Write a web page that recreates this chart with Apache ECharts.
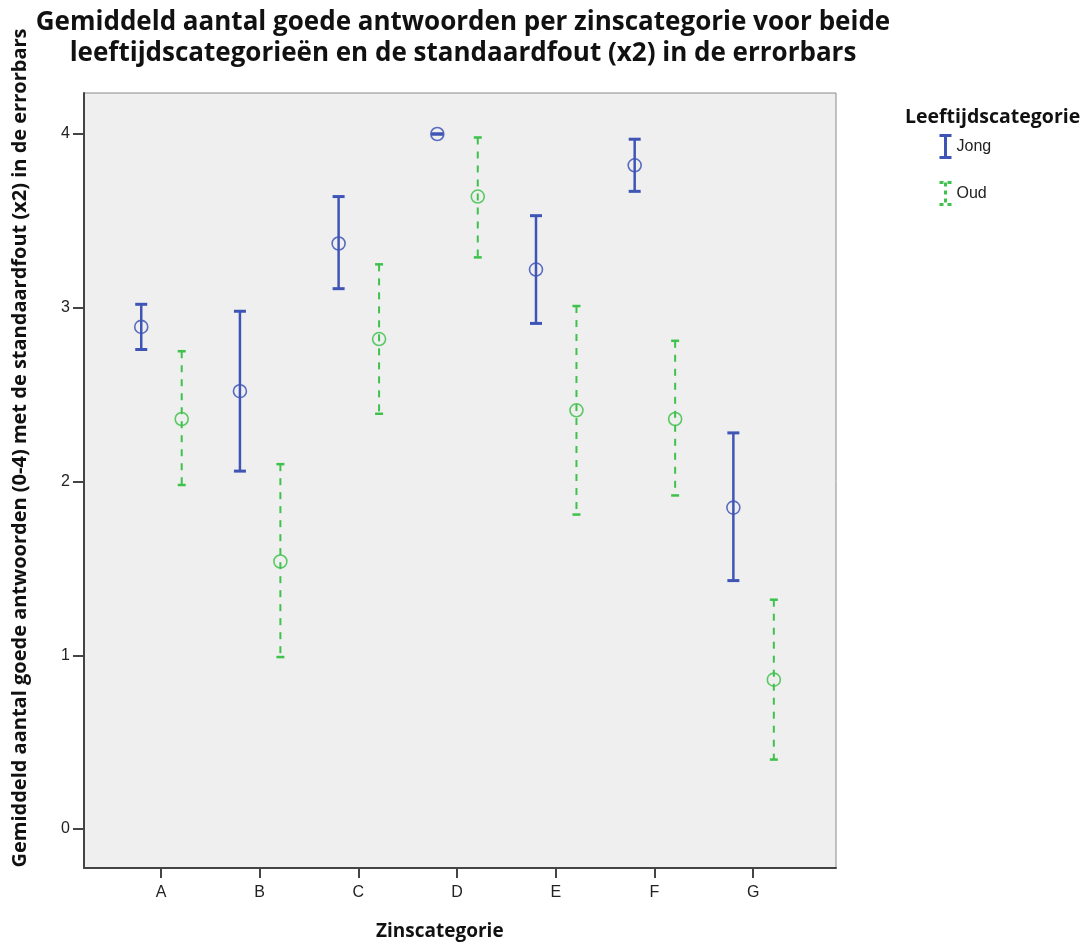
<!DOCTYPE html>
<html>
<head>
<meta charset="utf-8">
<script src="https://cdn.jsdelivr.net/npm/echarts@6/dist/echarts.min.js"></script>
<style>
  html, body { margin: 0; padding: 0; background: #fff; }
  #chart { width: 1085px; height: 947px; }
</style>
</head>
<body>
<div id="chart"></div>
<script>
// zinscategorieën
const categories = ['A', 'B', 'C', 'D', 'E', 'F', 'G']
const yTicks = [0, 1, 2, 3, 4]

// Jong: gemiddelde en grenzen van de errorbar (2x standaardfout)
const jongMean = [2.89, 2.52, 3.37, 4.0, 3.22, 3.82, 1.85]
const jongLow = [2.76, 2.06, 3.11, 4.0, 2.91, 3.67, 1.43]
const jongHigh = [3.02, 2.98, 3.64, 4.0, 3.53, 3.97, 2.28]

// Oud
const oudMean = [2.36, 1.54, 2.82, 3.64, 2.41, 2.36, 0.86]
const oudLow = [1.98, 0.99, 2.39, 3.29, 1.81, 1.92, 0.40]
const oudHigh = [2.75, 2.10, 3.25, 3.98, 3.01, 2.81, 1.32]

const BLUE = '#3f55b6'
const GREEN = '#3fc24c'
const FONT = 'Open Sans'

// rijen [x, gemiddelde, laag, hoog]
function rows(mean, low, high, shift) {
  return mean.map((m, i) => [i + 1 + shift, m, low[i], high[i]])
}

// errorbar + cirkel tekenen
function makeRender(color, dashed, capHalf) {
  return function (params, api) {
    const x = api.value(0)
    const pMean = api.coord([x, api.value(1)])
    const pLow = api.coord([x, api.value(2)])
    const pHigh = api.coord([x, api.value(3)])
    const line = {
      stroke: color,
      lineWidth: dashed ? 2 : 2.5,
      lineDash: dashed ? [7, 7] : null,
    }
    const capStyle = { stroke: color, lineWidth: dashed ? 2.5 : 3 }
    const children = [
      {
        type: 'line',
        shape: { x1: pHigh[0], y1: pHigh[1], x2: pLow[0], y2: pLow[1] },
        style: line,
      },
      {
        type: 'line',
        shape: { x1: pHigh[0] - capHalf, y1: pHigh[1], x2: pHigh[0] + capHalf, y2: pHigh[1] },
        style: capStyle,
      },
      {
        type: 'line',
        shape: { x1: pLow[0] - capHalf, y1: pLow[1], x2: pLow[0] + capHalf, y2: pLow[1] },
        style: capStyle,
      },
      {
        type: 'circle',
        shape: { cx: pMean[0], cy: pMean[1], r: 6.5 },
        style: { fill: 'none', stroke: color, lineWidth: 1.6, opacity: 0.85 },
      },
    ]
    return { type: 'group', children: children }
  }
}

const iconPath = 'path://M0,1 L12,1 M6,1 L6,23 M0,23 L12,23'

const option = {
  animation: false,
  backgroundColor: '#ffffff',
  title: [
    {
      text: 'Gemiddeld aantal goede antwoorden per zinscategorie voor beide\nleeftijdscategorieën en de standaardfout (x2) in de errorbars',
      left: 458,
      top: 2,
      textAlign: 'center',
      textStyle: {
        fontFamily: FONT,
        fontWeight: 'bold',
        fontSize: 26,
        lineHeight: 31,
        color: '#111',
        align: 'center',
      },
    },
    {
      text: 'Leeftijdscategorie',
      left: 900,
      top: 102,
      textStyle: { fontFamily: FONT, fontWeight: 'bold', fontSize: 19.5, color: '#111' },
    },
  ],
  legend: {
    orient: 'vertical',
    left: 932,
    top: 128,
    itemGap: 20,
    itemWidth: 12,
    itemHeight: 24,
    textStyle: { fontFamily: 'Liberation Sans', fontSize: 16, color: '#222' },
    data: [
      {
        name: 'Jong',
        icon: iconPath,
        itemStyle: { color: 'none', borderColor: BLUE, borderWidth: 3 },
      },
      {
        name: 'Oud',
        icon: iconPath,
        itemStyle: { color: 'none', borderColor: GREEN, borderWidth: 3, borderType: [4, 4] },
      },
    ],
  },
  grid: {
    left: 84,
    right: 249,
    top: 93,
    bottom: 79,
    show: true,
    backgroundColor: '#efefef',
    borderColor: '#8a8a8a',
    borderWidth: 1,
  },
  xAxis: {
    type: 'value',
    min: 0.22,
    max: 7.84,
    axisLine: { show: true, onZero: false, lineStyle: { color: '#444', width: 2 } },
    axisTick: { show: true, length: 10, customValues: categories.map((c, i) => i + 1), lineStyle: { color: '#444', width: 2 } },
    axisLabel: {
      customValues: categories.map((c, i) => i + 1),
      formatter: (v) => categories[Math.round(v) - 1],
      fontFamily: 'Liberation Sans',
      fontSize: 16,
      color: '#222',
      margin: 17,
    },
    splitLine: { show: false },
  },
  yAxis: {
    type: 'value',
    min: -0.224,
    max: 4.236,
    axisLine: { show: true, onZero: false, lineStyle: { color: '#444', width: 2 } },
    axisTick: { show: true, length: 11, customValues: yTicks, lineStyle: { color: '#444', width: 2 } },
    axisLabel: {
      customValues: yTicks,
      fontFamily: 'Liberation Sans',
      fontSize: 16,
      color: '#222',
      margin: 14,
    },
    splitLine: { show: false },
  },
  graphic: [
    {
      type: 'text',
      left: 376,
      top: 922,
      style: {
        text: 'Zinscategorie',
        font: 'bold 19px ' + FONT,
        fill: '#111',
      },
    },
    {
      type: 'text',
      x: 20,
      y: 448,
      rotation: Math.PI / 2,
      style: {
        text: 'Gemiddeld aantal goede antwoorden (0-4) met de standaardfout (x2) in de errorbars',
        font: 'bold 20px ' + FONT,
        fill: '#111',
        align: 'center',
        verticalAlign: 'middle',
      },
    },
  ],
  series: [
    {
      name: 'Jong',
      type: 'custom',
      color: BLUE,
      renderItem: makeRender(BLUE, false, 6),
      encode: { x: 0, y: [1, 2, 3] },
      data: rows(jongMean, jongLow, jongHigh, -0.2),
    },
    {
      name: 'Oud',
      type: 'custom',
      color: GREEN,
      renderItem: makeRender(GREEN, true, 4),
      encode: { x: 0, y: [1, 2, 3] },
      data: rows(oudMean, oudLow, oudHigh, 0.21),
    },
  ],
}

echarts.init(document.getElementById('chart')).setOption(option)
</script>
</body>
</html>
